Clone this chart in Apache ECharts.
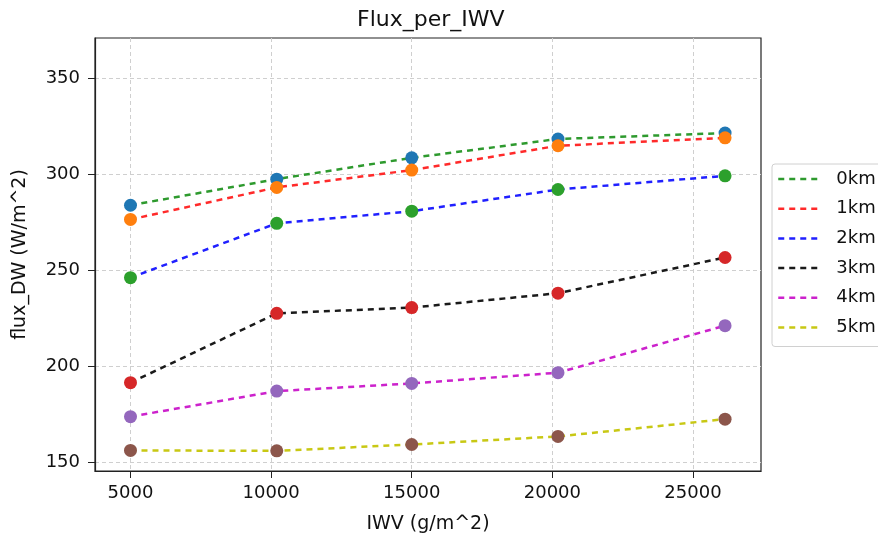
<!DOCTYPE html>
<html>
<head>
<meta charset="utf-8">
<script src="https://cdn.jsdelivr.net/npm/echarts@6/dist/echarts.min.js"></script>
<style>html,body{margin:0;padding:0;background:#fff}#c{width:878px;height:539px}</style>
</head>
<body>
<div id="c"></div>
<script>
const iwv = [5000, 10200, 15000, 20200, 26140];
const seriesNames = ['0km', '1km', '2km', '3km', '4km', '5km'];
const flux0 = [283.9, 297.5, 308.6, 318.4, 321.5];
const flux1 = [276.5, 293.2, 302.2, 314.9, 319.0];
const flux2 = [246.2, 274.5, 280.8, 292.1, 299.2];
const flux3 = [191.5, 227.6, 230.6, 238.1, 256.7];
const flux4 = [173.8, 187.1, 191.1, 196.7, 221.2];
const flux5 = [156.2, 156.0, 159.3, 163.5, 172.5];
const xTicks = [5000, 10000, 15000, 20000, 25000];
const yTicks = [150, 200, 250, 300, 350];

const allFlux = [flux0, flux1, flux2, flux3, flux4, flux5];
const dotColors = ['#1f77b4', '#ff7f0e', '#2ca02c', '#d62728', '#9467bd', '#8c564b'];
const lineColors = ['#2e9a2e', '#ff2a2a', '#2020ff', '#1a1a1a', '#cc22cc', '#c8c814'];
const FONT = 'DejaVu Sans';

const series = [];
allFlux.forEach((vals, i) => {
  const pts = iwv.map((x, j) => [x, vals[j]]);
  series.push({
    type: 'scatter', name: 'pts' + i, data: pts, symbolSize: 13,
    itemStyle: { color: dotColors[i], opacity: 1 }, z: 2, silent: true
  });
  series.push({
    type: 'line', name: seriesNames[i], data: pts, symbol: 'none',
    lineStyle: { color: lineColors[i], width: 2.5, type: [6, 5] },
    itemStyle: { color: lineColors[i] }, z: 2, silent: true
  });
});

const chart = echarts.init(document.getElementById('c'), null, { renderer: 'canvas' });
chart.setOption({
  animation: false,
  backgroundColor: '#fff',
  title: {
    text: 'Flux_per_IWV', left: 352, top: 4,
    textStyle: { fontFamily: FONT, fontSize: 22, fontWeight: 'normal', color: '#111' }
  },
  legend: {
    orient: 'vertical', left: 772, top: 164,
    data: seriesNames,
    itemWidth: 40, itemHeight: 18, itemGap: 11.7,
    padding: [6, 60, 10, 5],
    borderColor: '#d0d0d0', borderWidth: 1, borderRadius: 3,
    backgroundColor: '#fff',
    itemStyle: { opacity: 0 },
    lineStyle: { opacity: 1, width: 2.5, type: [6, 5] },
    textStyle: { fontFamily: FONT, fontSize: 18, color: '#111', padding: [0, 0, 0, 13] }
  },
  grid: {
    left: 95, top: 38, right: 117, bottom: 68,
    show: true, borderColor: '#222', borderWidth: 1.2, backgroundColor: 'transparent'
  },
  xAxis: {
    type: 'value', min: 3738, max: 27418,
    name: 'IWV (g/m^2)', nameLocation: 'middle', nameGap: 44,
    nameTextStyle: { fontFamily: FONT, fontSize: 19, color: '#111' },
    axisLine: { show: true, lineStyle: { color: '#222', width: 1.2 } },
    axisTick: { show: true, length: 7, customValues: xTicks, lineStyle: { color: '#222' } },
    axisLabel: { customValues: xTicks, margin: 13, fontFamily: FONT, fontSize: 18, color: '#111',
      formatter: v => String(v) },
    splitLine: { show: true, lineStyle: { color: '#cfcfcf', type: [4, 3], width: 1 } }
  },
  yAxis: {
    type: 'value', min: 145.5, max: 371,
    name: 'flux_DW (W/m^2)', nameLocation: 'middle', nameGap: 65, nameRotate: 90,
    nameTextStyle: { fontFamily: FONT, fontSize: 19, color: '#111' },
    axisLine: { show: true, lineStyle: { color: '#222', width: 1.2 } },
    axisTick: { show: true, length: 7, customValues: yTicks, lineStyle: { color: '#222' } },
    axisLabel: { customValues: yTicks, margin: 15, fontFamily: FONT, fontSize: 18, color: '#111',
      formatter: v => String(v) },
    splitLine: { show: true, lineStyle: { color: '#cfcfcf', type: [4, 3], width: 1 } }
  },
  series: series
});
</script>
</body>
</html>
